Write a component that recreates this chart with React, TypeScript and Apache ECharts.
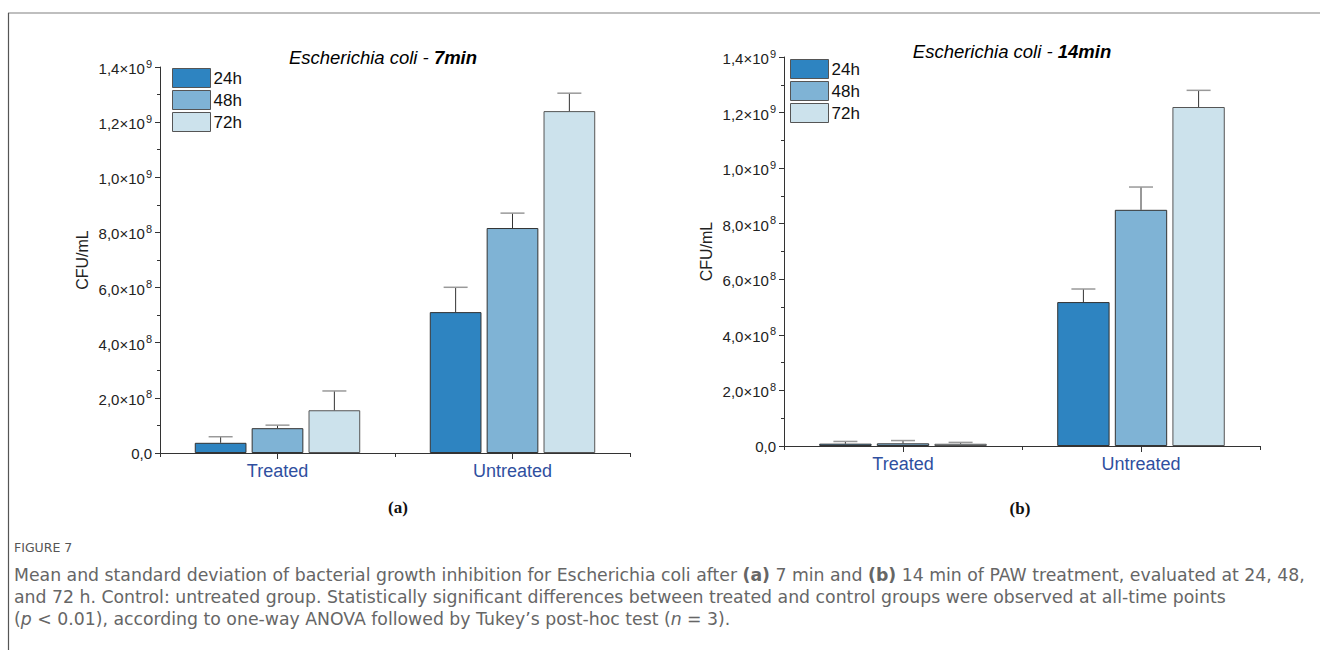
import React, { useEffect, useRef } from "react";
import * as echarts from "echarts";

const categories = ["Treated", "Untreated"];
const seriesNames = ["24h", "48h", "72h"];
const colors = ["#2E84C1", "#7FB3D5", "#CCE2EC"];

// Panel (a): 7 min
const meanA24 = [3.7e7, 5.11e8];
const meanA48 = [9.0e7, 8.16e8];
const meanA72 = [1.55e8, 1.24e9];
const sdA24 = [2.2e7, 9.0e7];
const sdA48 = [1.1e7, 5.4e7];
const sdA72 = [7.0e7, 6.5e7];

// Panel (b): 14 min
const meanB24 = [8.4e6, 5.18e8];
const meanB48 = [9.6e6, 8.5e8];
const meanB72 = [8.0e6, 1.22e9];
const sdB24 = [8.0e6, 4.7e7];
const sdB48 = [1.0e7, 8.2e7];
const sdB72 = [5.0e6, 6.0e7];

const yTickMantissa = ["0,0", "2,0", "4,0", "6,0", "8,0", "1,0", "1,2", "1,4"];
const yTickExp = ["", "8", "8", "8", "8", "9", "9", "9"];

const BAR_W = 0.22;
const BAR_GAP = 0.1;
const FONT = "Liberation Sans, Arial, sans-serif";
const CAP_FONT = "DejaVu Sans, sans-serif";

function yFormatter(_v: number, idx: number) {
  const m = yTickMantissa[idx];
  const e = yTickExp[idx];
  if (!e) return `{n|${m}}`;
  return `{n|${m}×10}{s|${e}}`;
}

const yRich = {
  n: { fontSize: 15, color: "#222", fontFamily: FONT, verticalAlign: "bottom" },
  s: { fontSize: 11, color: "#222", fontFamily: FONT, verticalAlign: "bottom", padding: [0, 0, 7, 1] },
};

function errRender(params: any, api: any) {
  const cat = api.value(0);
  const si = api.value(1);
  const val = api.value(2);
  const err = api.value(3);
  const band = api.size([1, 0])[0];
  const bw = band * BAR_W;
  const gap = bw * BAR_GAP;
  const base = api.coord([cat, val]);
  const x = base[0] + (si - 1) * (bw + gap);
  const top = api.coord([cat, val + err])[1];
  return {
    type: "group",
    children: [
      { type: "line", shape: { x1: x, y1: base[1], x2: x, y2: top }, style: { stroke: "#333", lineWidth: 1 } },
      { type: "line", shape: { x1: x - 12, y1: top, x2: x + 12, y2: top }, style: { stroke: "#999", lineWidth: 1.5 } },
    ],
  };
}

function errData(means: number[][], sds: number[][]) {
  const out: number[][] = [];
  for (let s = 0; s < means.length; s++) {
    for (let c = 0; c < categories.length; c++) {
      out.push([c, s, means[s][c], sds[s][c]]);
    }
  }
  return out;
}

function makeAxes(gridIndex: number) {
  const xMain = {
    type: "category",
    gridIndex,
    data: categories,
    position: "bottom",
    axisLine: { lineStyle: { color: "#333", width: 1 } },
    axisTick: { show: true, length: 4, lineStyle: { color: "#333" } },
    axisLabel: { color: "#2F4FA0", fontSize: 18, fontFamily: FONT, margin: 9 },
  };
  const xTicks = {
    type: "category",
    gridIndex,
    data: categories,
    position: "bottom",
    offset: 0,
    axisLine: { show: false },
    axisTick: { show: true, alignWithLabel: true, length: 6, lineStyle: { color: "#333" } },
    axisLabel: { show: false },
  };
  const y = {
    type: "value",
    gridIndex,
    min: 0,
    max: 1.4e9,
    interval: 2e8,
    name: "CFU/mL",
    nameLocation: "middle",
    nameGap: 70,
    nameTextStyle: { fontSize: 16, color: "#222", fontFamily: FONT },
    axisLine: { show: true, lineStyle: { color: "#333" } },
    axisTick: { show: true, length: 5, lineStyle: { color: "#333" } },
    minorTick: { show: true, splitNumber: 2, length: 3, lineStyle: { color: "#333" } },
    splitLine: { show: false },
    axisLabel: { formatter: yFormatter, rich: yRich, margin: 8, fontSize: 15, fontFamily: FONT, color: "#222" },
  };
  return { xMain, xTicks, y };
}

function barSeries(gridXIndex: number, gridYIndex: number, means: number[][]) {
  return means.map((m, i) => ({
    type: "bar",
    name: seriesNames[i],
    xAxisIndex: gridXIndex,
    yAxisIndex: gridYIndex,
    data: m,
    barWidth: `${BAR_W * 100}%`,
    barGap: `${BAR_GAP * 100}%`,
    itemStyle: { color: colors[i], borderColor: i === 2 ? "#555" : "#333", borderWidth: 1 },
  }));
}

export default function App() {
  const ref = useRef<HTMLDivElement>(null);
  useEffect(() => {
    if (!ref.current) return;
    const chart = echarts.init(ref.current, null, { renderer: "svg" });
    const a = makeAxes(0);
    const b = makeAxes(1);
    const legendBase = {
      orient: "vertical",
      itemWidth: 38,
      itemHeight: 19,
      itemGap: 2,
      padding: 0,
      icon: "rect",
      data: seriesNames,
      selectedMode: false,
      textStyle: { fontSize: 17, color: "#111", fontFamily: FONT, padding: [0, 0, 0, -2], lineHeight: 19 },
      itemStyle: { borderColor: "#555", borderWidth: 1 },
    };
    const CS = 17.3;
    const captionStyle = { fontSize: CS, fill: "#666", fontFamily: CAP_FONT };
    const captionRich = {
      b: { fontSize: CS, fontWeight: "bold", color: "#666", fontFamily: CAP_FONT },
      i: { fontSize: CS, fontStyle: "italic", color: "#666", fontFamily: CAP_FONT },
    };
    const titleRich = {
      i: { fontSize: 18.5, fontStyle: "italic", color: "#111", fontFamily: FONT },
      b: { fontSize: 18.5, fontStyle: "italic", fontWeight: "bold", color: "#111", fontFamily: FONT },
    };
    chart.setOption({
      animation: false,
      grid: [
        { left: 160, top: 67, width: 470, height: 386 },
        { left: 784, top: 57, width: 476, height: 389 },
      ],
      xAxis: [a.xMain, a.xTicks, b.xMain, b.xTicks],
      yAxis: [a.y, b.y],
      legend: [
        { ...legendBase, left: 172, top: 68 },
        { ...legendBase, left: 790, top: 59 },
      ],
      series: [
        ...barSeries(0, 0, [meanA24, meanA48, meanA72]),
        {
          type: "custom",
          xAxisIndex: 0,
          yAxisIndex: 0,
          renderItem: errRender,
          data: errData([meanA24, meanA48, meanA72], [sdA24, sdA48, sdA72]),
          encode: { x: 0, y: 2 },
          z: 5,
          silent: true,
        },
        ...barSeries(2, 1, [meanB24, meanB48, meanB72]),
        {
          type: "custom",
          xAxisIndex: 2,
          yAxisIndex: 1,
          renderItem: errRender,
          data: errData([meanB24, meanB48, meanB72], [sdB24, sdB48, sdB72]),
          encode: { x: 0, y: 2 },
          z: 5,
          silent: true,
        },
      ],
      graphic: [
        { type: "line", shape: { x1: 8, y1: 13, x2: 1320, y2: 13 }, style: { stroke: "#aaa", lineWidth: 1.3 } },
        { type: "line", shape: { x1: 8.5, y1: 13, x2: 8.5, y2: 650 }, style: { stroke: "#555", lineWidth: 1.2 } },
        {
          type: "text", x: 383, y: 57,
          style: { text: "{i|Escherichia coli - }{b|7min}", rich: titleRich, align: "center", verticalAlign: "middle" },
        },
        {
          type: "text", x: 1012, y: 51,
          style: { text: "{i|Escherichia coli - }{b|14min}", rich: titleRich, align: "center", verticalAlign: "middle" },
        },
        {
          type: "text", x: 398, y: 507,
          style: { text: "(a)", fontSize: 17, fontWeight: "bold", fill: "#111", fontFamily: "Liberation Serif, serif", align: "center", verticalAlign: "middle" },
        },
        {
          type: "text", x: 1020, y: 508,
          style: { text: "(b)", fontSize: 17, fontWeight: "bold", fill: "#111", fontFamily: "Liberation Serif, serif", align: "center", verticalAlign: "middle" },
        },
        {
          type: "text", x: 14, y: 547,
          style: { text: "FIGURE 7", fontSize: 12.5, fill: "#555", fontFamily: CAP_FONT, verticalAlign: "middle" },
        },
        {
          type: "text", x: 14, y: 575,
          style: {
            ...captionStyle, verticalAlign: "middle", rich: captionRich,
            text: "Mean and standard deviation of bacterial growth inhibition for Escherichia coli after {b|(a)} 7 min and {b|(b)} 14 min of PAW treatment, evaluated at 24, 48,",
          },
        },
        {
          type: "text", x: 14, y: 597,
          style: {
            ...captionStyle, verticalAlign: "middle",
            text: "and 72 h. Control: untreated group. Statistically significant differences between treated and control groups were observed at all-time points",
          },
        },
        {
          type: "text", x: 14, y: 619,
          style: {
            ...captionStyle, verticalAlign: "middle", rich: captionRich,
            text: "({i|p} < 0.01), according to one-way ANOVA followed by Tukey\u2019s post-hoc test ({i|n} = 3).",
          },
        },
      ],
    });
    return () => chart.dispose();
  }, []);
  return <div ref={ref} style={{ position: "absolute", left: 0, top: 0, width: 1320, height: 650, background: "#fff" }} />;
}
